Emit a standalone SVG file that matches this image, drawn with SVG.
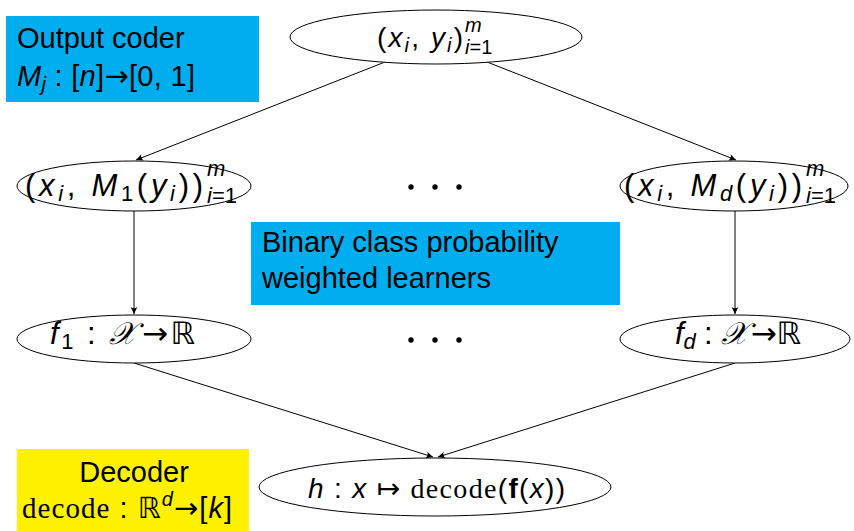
<svg xmlns="http://www.w3.org/2000/svg" width="854" height="531" viewBox="0 0 854 531">
  <style>
    .t { font-family: "Liberation Sans", Arial, sans-serif; font-size: 29px; fill: #000; }
    .m { font-size: 28px; }
    .big { font-size: 31px; }
    .s { font-size: 20px; }
    .sb { font-size: 22px; }
    .i { font-style: italic; }
    .b { font-weight: bold; }
    .rm { font-family: "Liberation Serif", "Times New Roman", serif; }
    .bb { font-family: "DejaVu Sans", "Noto Sans", sans-serif; }
    .cal { font-family: "DejaVu Serif", "Noto Sans", "DejaVu Sans", serif; font-style: italic; }
    .node ellipse { fill: #fff; stroke: #000; stroke-width: 1; }
    .note-blue { fill: #00adee; }
    .note-yellow { fill: #fff100; }
    .conn line { stroke: #000; stroke-width: 1; fill: none; marker-end: url(#to); }
    .dots circle { fill: #000; }
  </style>
  <defs>
    <marker id="to" viewBox="-8 -5 10 10" refX="0" refY="0" markerWidth="10" markerHeight="10" markerUnits="userSpaceOnUse" orient="auto">
      <path d="M0,0 L-7,-3.4 Q-4.6,0 -7,3.4 Z" fill="#000"/>
    </marker>
  </defs>

  <rect width="854" height="531" fill="#fff"/>

  <!-- annotation boxes -->
  <g id="output-coder">
    <rect class="note-blue" x="6" y="16" width="253" height="86"/>
    <text class="t" x="17" y="48">Output coder</text>
    <text class="t" x="17" y="86" textLength="178" lengthAdjust="spacing"><tspan class="i">M</tspan><tspan class="s i" dy="5">j</tspan><tspan dy="-5"> : [</tspan><tspan class="i">n</tspan>]<tspan class="bb">→</tspan>[0, 1]</text>
  </g>

  <g id="learners-label">
    <rect class="note-blue" x="251" y="222" width="369" height="83"/>
    <text class="t" x="262" y="252">Binary class probability</text>
    <text class="t" x="262" y="288">weighted learners</text>
  </g>

  <g id="decoder-label">
    <rect class="note-yellow" x="17" y="449" width="232" height="82"/>
    <text class="t" x="134" y="482" text-anchor="middle">Decoder</text>
    <text class="t" x="22" y="518" textLength="210" lengthAdjust="spacing"><tspan class="rm">decode</tspan> : <tspan class="bb">ℝ</tspan><tspan class="s i" dy="-12">d</tspan><tspan class="bb" dy="12">→</tspan>[<tspan class="i">k</tspan>]</text>
  </g>

  <!-- connectors -->
  <g id="connectors" class="conn">
    <line x1="385" y1="62" x2="136" y2="160"/>
    <line x1="487" y1="62" x2="736" y2="160"/>
    <line x1="134" y1="211" x2="134" y2="314"/>
    <line x1="735" y1="211" x2="735" y2="314"/>
    <line x1="134" y1="363" x2="433" y2="457"/>
    <line x1="735" y1="363" x2="438" y2="457"/>
  </g>

  <!-- nodes -->
  <g id="data" class="node">
    <ellipse cx="436" cy="37" rx="146" ry="27"/>
    <text class="t m" x="377" y="47" textLength="86" lengthAdjust="spacing">(<tspan class="i">x</tspan><tspan class="s i" dy="5">i</tspan><tspan dy="-5">, </tspan><tspan class="i">y</tspan><tspan class="s i" dy="5">i</tspan><tspan dy="-5">)</tspan></text>
    <text class="t s i" x="465" y="32">m</text>
    <text class="t s" x="465" y="54"><tspan class="i">i</tspan>=1</text>
  </g>

  <g id="relabel-1" class="node">
    <ellipse cx="134" cy="186" rx="117" ry="25"/>
    <text class="t big" x="25" y="196" textLength="178" lengthAdjust="spacing">(<tspan class="i">x</tspan><tspan class="sb i" dy="5">i</tspan><tspan dy="-5">, </tspan><tspan class="i">M</tspan><tspan class="sb" dy="5">1</tspan><tspan dy="-5">(</tspan><tspan class="i">y</tspan><tspan class="sb i" dy="5">i</tspan><tspan dy="-5">))</tspan></text>
    <text class="t sb i" x="207" y="176">m</text>
    <text class="t sb" x="207" y="203"><tspan class="i">i</tspan>=1</text>
  </g>

  <g id="relabel-d" class="node">
    <ellipse cx="734" cy="186" rx="114" ry="25"/>
    <text class="t big" x="624" y="196" textLength="178" lengthAdjust="spacing">(<tspan class="i">x</tspan><tspan class="sb i" dy="5">i</tspan><tspan dy="-5">, </tspan><tspan class="i">M</tspan><tspan class="sb i" dy="5">d</tspan><tspan dy="-5">(</tspan><tspan class="i">y</tspan><tspan class="sb i" dy="5">i</tspan><tspan dy="-5">))</tspan></text>
    <text class="t sb i" x="806" y="176">m</text>
    <text class="t sb" x="806" y="203"><tspan class="i">i</tspan>=1</text>
  </g>

  <g id="dots-top" class="dots">
    <circle cx="411" cy="187" r="2.7"/>
    <circle cx="435" cy="187" r="2.7"/>
    <circle cx="459" cy="187" r="2.7"/>
  </g>

  <g id="learner-1" class="node">
    <ellipse cx="134" cy="339" rx="117" ry="24"/>
    <text class="t big" x="50" y="344" textLength="145" lengthAdjust="spacing"><tspan class="i">f</tspan><tspan class="sb" dy="5">1</tspan><tspan dy="-5"> : </tspan><tspan class="cal">𝒳</tspan><tspan class="bb" dx="3">→</tspan><tspan class="bb">ℝ</tspan></text>
  </g>

  <g id="learner-d" class="node">
    <ellipse cx="735" cy="339" rx="115" ry="24"/>
    <text class="t big" x="675" y="344" textLength="126" lengthAdjust="spacing"><tspan class="i">f</tspan><tspan class="sb i" dy="5">d</tspan><tspan dy="-5"> : </tspan><tspan class="cal">𝒳</tspan><tspan class="bb" dx="3">→</tspan><tspan class="bb">ℝ</tspan></text>
  </g>

  <g id="dots-bottom" class="dots">
    <circle cx="411" cy="340" r="2.7"/>
    <circle cx="435" cy="340" r="2.7"/>
    <circle cx="459" cy="340" r="2.7"/>
  </g>

  <g id="classifier" class="node">
    <ellipse cx="435" cy="487" rx="176" ry="29"/>
    <text class="t m" x="308" y="498" textLength="257" lengthAdjust="spacing"><tspan class="i">h</tspan> : <tspan class="i">x</tspan> <tspan class="bb">↦</tspan> <tspan class="rm">decode</tspan>(<tspan class="b">f</tspan>(<tspan class="i">x</tspan>))</text>
  </g>
</svg>
